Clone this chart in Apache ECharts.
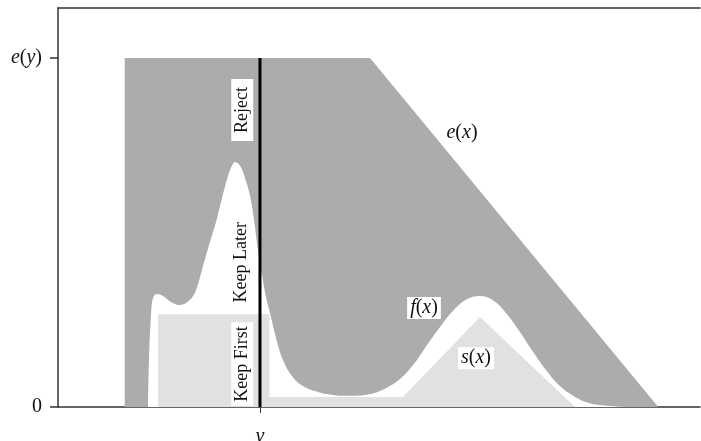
<!DOCTYPE html>
<html><head><meta charset="utf-8">
<script src="https://cdn.jsdelivr.net/npm/echarts@6/dist/echarts.min.js"></script>
<style>html,body{margin:0;padding:0;background:#fff}#c{width:701px;height:441px}</style>
</head><body><div id="c"></div>
<script>
// envelope e(x)
const eX = [1.04, 1.04, 4.86, 9.35];
const eY = [0, 1, 1, 0];
// target density f(x)
const fX = [1.402, 1.417, 1.449, 1.480, 1.542, 1.636, 1.760, 1.900, 2.056, 2.150, 2.243, 2.352, 2.461, 2.555, 2.648, 2.710, 2.757, 2.835, 2.913, 2.991, 3.053, 3.115, 3.178, 3.240, 3.302, 3.396, 3.505, 3.645, 3.816, 4.050, 4.315, 4.579, 4.860, 5.109, 5.327, 5.530, 5.717, 5.919, 6.137, 6.355, 6.573, 6.791, 6.994, 7.196, 7.399, 7.601, 7.819, 8.053, 8.287, 8.598, 8.910];
const fY = [0, 0.135, 0.264, 0.312, 0.324, 0.318, 0.301, 0.292, 0.307, 0.335, 0.393, 0.464, 0.530, 0.599, 0.662, 0.691, 0.702, 0.691, 0.656, 0.605, 0.536, 0.450, 0.378, 0.315, 0.269, 0.198, 0.135, 0.089, 0.060, 0.043, 0.034, 0.032, 0.037, 0.054, 0.080, 0.120, 0.169, 0.221, 0.272, 0.307, 0.318, 0.304, 0.266, 0.215, 0.158, 0.106, 0.060, 0.029, 0.011, 0.003, 0];
// squeeze s(x)
const sX = [1.558, 1.558, 3.295, 3.295, 5.374, 6.573, 8.053];
const sY = [0, 0.266, 0.266, 0.029, 0.029, 0.258, 0];
// threshold y
const yLineX = 3.146;
const yTickValues = [0, 1];
const yTickNames = ['0', 'e(y)'];
const xTickValues = [3.146];
const xTickNames = ['y'];
// region labels
const regionNames = ['Reject', 'Keep Later', 'Keep First'];
const regionX = [2.87, 2.85, 2.87];
const regionY = [0.851, 0.415, 0.123];
// curve labels
const curveNames = ['e', 'f', 's'];
const curveX = [6.293, 5.701, 6.511];
const curveY = [0.785, 0.284, 0.140];

const pairs = (xs, ys) => xs.map((x, i) => [x, ys[i]]);
const SERIF = '"Liberation Serif", serif';
const mathRich = {
  i: {fontFamily: SERIF, fontStyle: 'italic', fontSize: 20, fill: '#111', color: '#111'},
  n: {fontFamily: SERIF, fontSize: 20, fill: '#111', color: '#111'}
};
const math = (f, v) => '{i|' + f + '}{n|(}{i|' + v + '}{n|)}';

const chart = echarts.init(document.getElementById('c'));
chart.setOption({
  animation: false,
  backgroundColor: '#fff',
  grid: {left: 58, right: 1, top: 8, bottom: 34, containLabel: false, outerBoundsMode: 'none'},
  xAxis: [{
    type: 'value', min: 0, max: 10, position: 'bottom',
    axisLine: {show: true, onZero: false, lineStyle: {color: '#333', width: 1.5}},
    splitLine: {show: false},
    axisTick: {show: true, customValues: xTickValues, length: 6, lineStyle: {color: '#333', width: 1}},
    axisLabel: {show: true, customValues: xTickValues, margin: 20,
      formatter: v => '{i|' + xTickNames[xTickValues.indexOf(v)] + '}', rich: mathRich}
  }, {
    type: 'value', min: 0, max: 10, position: 'top',
    axisLine: {show: true, onZero: false, lineStyle: {color: '#333', width: 1.5}},
    splitLine: {show: false}, axisTick: {show: false}, axisLabel: {show: false}
  }],
  yAxis: {
    type: 'value', min: 0, max: 1.1433, position: 'left',
    axisLine: {show: true, onZero: false, lineStyle: {color: '#333', width: 1.5}},
    splitLine: {show: false},
    axisTick: {show: true, customValues: yTickValues, length: 8, lineStyle: {color: '#333', width: 1.5}},
    axisLabel: {show: true, customValues: yTickValues, margin: 16,
      formatter: v => { const n = yTickNames[yTickValues.indexOf(v)]; return n === 'e(y)' ? math('e', 'y') : '{n|' + n + '}'; },
      rich: mathRich}
  },
  series: [
    {type: 'line', data: pairs(eX, eY), symbol: 'none', silent: true,
      lineStyle: {width: 0}, areaStyle: {color: '#acacac', opacity: 1}},
    {type: 'line', data: pairs(fX, fY), symbol: 'none', silent: true, smooth: 0.4,
      lineStyle: {width: 0}, areaStyle: {color: '#ffffff', opacity: 1}},
    {type: 'line', data: pairs(sX, sY), symbol: 'none', silent: true,
      lineStyle: {width: 0}, areaStyle: {color: '#e1e1e1', opacity: 1}},
    {type: 'line', data: [[yLineX, 0], [yLineX, 1]], symbol: 'none', silent: true,
      lineStyle: {color: '#000', width: 3}},
    {type: 'custom', silent: true, z: 5,
      data: regionNames.map((n, i) => [regionX[i], regionY[i], i]),
      renderItem: (params, api) => {
        const p = api.coord([api.value(0), api.value(1)]);
        const n = regionNames[params.dataIndex];
        return {type: 'text', x: p[0], y: p[1], rotation: Math.PI / 2,
          style: {text: n, fontFamily: SERIF, fontSize: 18, fill: '#111',
            align: 'center', verticalAlign: 'middle',
            backgroundColor: n === 'Keep Later' ? null : '#ffffff',
            padding: n === 'Reject' ? [2, 8] : [2, 4]}};
      }
    },
    {type: 'custom', silent: true, z: 5,
      data: curveNames.map((n, i) => [curveX[i], curveY[i], i]),
      renderItem: (params, api) => {
        const p = api.coord([api.value(0), api.value(1)]);
        const n = curveNames[params.dataIndex];
        return {type: 'text', x: p[0], y: p[1],
          style: {text: math(n, 'x'), rich: mathRich, fill: '#111',
            align: 'center', verticalAlign: 'middle',
            backgroundColor: n === 'e' ? null : '#ffffff', padding: [1, 3]}};
      }
    }
  ]
});
</script></body></html>
